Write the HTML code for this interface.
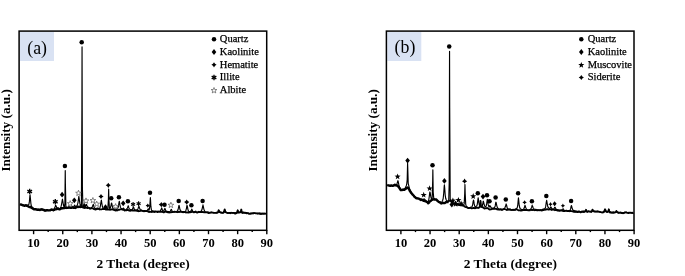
<!DOCTYPE html>
<html><head><meta charset="utf-8"><title>XRD patterns</title>
<style>html,body{margin:0;padding:0;background:#fff;}body{width:685px;height:276px;overflow:hidden;}svg{display:block;}</style>
</head><body>
<svg width="685" height="276" viewBox="0 0 685 276">
<rect width="685" height="276" fill="#fff"/>
<rect x="20.0" y="31.9" width="34" height="29.1" fill="#D9E2F3"/>
<text x="27.3" y="53.9" font-size="17.8" font-family="Liberation Serif, serif">(a)</text>
<path d="M19.90,204.30 L20.40,204.45 L20.90,204.44 L21.40,204.56 L21.90,204.87 L22.40,205.06 L22.90,205.38 L23.40,205.38 L23.90,205.62 L24.40,205.69 L24.90,205.71 L25.40,205.50 L25.90,205.20 L26.40,205.67 L26.90,205.85 L27.40,205.94 L27.90,206.09 L28.40,206.52 L28.90,206.62 L29.40,207.00 L29.90,206.94 L30.40,206.90 L30.90,206.98 L31.40,207.70 L31.90,208.09 L32.40,207.89 L32.90,208.69 L33.40,208.93 L33.90,209.24 L34.40,209.24 L34.90,209.40 L35.40,209.37 L35.90,209.12 L36.40,209.58 L36.90,209.47 L37.40,209.82 L37.90,209.55 L38.40,209.74 L38.90,209.78 L39.40,209.64 L39.90,209.98 L40.40,209.69 L40.90,209.45 L41.40,209.58 L41.90,209.17 L42.40,209.47 L42.90,209.79 L43.40,210.11 L43.90,210.03 L44.40,210.10 L44.90,210.65 L45.40,210.34 L45.90,210.54 L46.40,210.39 L46.90,210.09 L47.40,210.21 L47.90,210.32 L48.40,210.43 L48.90,210.38 L49.40,210.34 L49.90,210.35 L50.40,210.25 L50.90,209.77 L51.40,209.46 L51.90,209.70 L52.40,209.64 L52.90,209.85 L53.40,210.19 L53.90,209.85 L54.40,209.75 L54.90,209.34 L55.40,209.39 L55.90,209.31 L56.40,208.87 L56.90,209.02 L57.40,208.87 L57.90,208.43 L58.40,208.93 L58.90,209.08 L59.40,209.41 L59.90,209.13 L60.40,209.02 L60.90,208.71 L61.40,208.17 L61.90,208.09 L62.40,208.30 L62.90,208.33 L63.40,207.95 L63.90,208.06 L64.40,208.11 L64.90,207.87 L65.40,207.78 L65.90,207.65 L66.40,207.74 L66.90,207.93 L67.40,207.85 L67.90,207.76 L68.40,207.77 L68.90,207.22 L69.40,207.50 L69.90,207.73 L70.40,207.65 L70.90,207.64 L71.40,207.81 L71.90,207.41 L72.40,207.30 L72.90,207.56 L73.40,207.84 L73.90,207.69 L74.40,207.75 L74.90,207.71 L75.40,207.92 L75.90,207.48 L76.40,207.39 L76.90,206.75 L77.40,206.71 L77.90,206.86 L78.40,206.96 L78.90,206.74 L79.40,206.63 L79.90,206.58 L80.40,206.87 L80.90,206.99" fill="none" stroke="#000" stroke-width="2.4" stroke-linejoin="round"/>
<path d="M79.10,206.98 L79.60,207.19 L80.10,207.26 L80.60,207.21 L81.10,207.08 L81.60,207.10 L82.10,206.95 L82.60,207.35 L83.10,207.66 L83.60,207.59 L84.10,207.83 L84.60,207.79 L85.10,207.91 L85.60,207.45 L86.10,207.88 L86.60,207.89 L87.10,207.99 L87.60,207.98 L88.10,207.62 L88.60,207.97 L89.10,207.98 L89.60,208.48 L90.10,208.81 L90.60,208.41 L91.10,208.44 L91.60,208.28 L92.10,208.33 L92.60,208.34 L93.10,208.28 L93.60,209.00 L94.10,209.21 L94.60,209.26 L95.10,209.49 L95.60,209.50 L96.10,209.46 L96.60,209.24 L97.10,209.06 L97.60,208.70 L98.10,208.50 L98.60,208.85 L99.10,209.29 L99.60,209.52 L100.10,209.25 L100.60,209.39 L101.10,209.46 L101.60,209.40 L102.10,209.24 L102.60,208.90 L103.10,209.06 L103.60,208.88 L104.10,208.86 L104.60,209.04 L105.10,209.30 L105.60,209.60 L106.10,209.61 L106.60,209.38 L107.10,209.53 L107.60,209.41 L108.10,209.50 L108.60,209.48 L109.10,209.67 L109.60,209.63 L110.10,209.83 L110.60,209.72 L111.10,209.57 L111.60,209.42 L112.10,209.26 L112.60,209.44 L113.10,209.70 L113.60,209.97 L114.10,209.96 L114.60,210.24 L115.10,210.42 L115.60,210.51 L116.10,210.39 L116.60,210.08 L117.10,210.48 L117.60,210.37 L118.10,209.86 L118.60,209.91 L119.10,209.75 L119.60,209.78 L120.10,209.54 L120.60,209.31 L121.10,209.27 L121.60,209.27 L122.10,209.27 L122.60,209.68 L123.10,209.82 L123.60,209.58 L124.10,210.14 L124.60,210.55 L125.10,210.47 L125.60,210.46 L126.10,210.20 L126.60,210.27 L127.10,210.22 L127.60,209.83 L128.10,209.97 L128.60,210.44 L129.10,210.51 L129.60,210.69 L130.10,210.88 L130.60,210.68 L131.10,210.60 L131.60,210.17 L132.10,210.13 L132.60,210.56 L133.10,210.34 L133.60,210.58 L134.10,210.71 L134.60,210.47 L135.10,210.48 L135.60,210.18 L136.10,210.07 L136.60,210.39 L137.10,210.73 L137.60,211.01 L138.10,210.70 L138.60,211.27 L139.10,211.19 L139.60,211.16 L140.10,210.98 L140.60,210.87 L141.10,210.55 L141.60,210.51 L142.10,210.92 L142.60,210.90 L143.10,210.94 L143.60,211.10 L144.10,211.33 L144.60,210.90 L145.10,211.13 L145.60,211.04 L146.10,210.82 L146.60,211.11 L147.10,211.26 L147.60,211.31 L148.10,211.57 L148.60,211.57 L149.10,212.11 L149.60,211.71 L150.10,211.91 L150.60,211.84 L151.10,212.02 L151.60,211.91 L152.10,211.67 L152.60,211.75 L153.10,211.71 L153.60,211.84 L154.10,211.96 L154.60,212.06 L155.10,211.39 L155.60,211.31 L156.10,211.70 L156.60,211.72 L157.10,211.80 L157.60,212.14 L158.10,211.64 L158.60,211.87 L159.10,211.85 L159.60,211.91 L160.10,211.93 L160.60,211.85 L161.10,211.80 L161.60,211.81 L162.10,211.67 L162.60,212.05 L163.10,212.33 L163.60,212.12 L164.10,212.24 L164.60,211.86 L165.10,211.55 L165.60,211.63 L166.10,211.84 L166.60,211.62 L167.10,211.66 L167.60,212.32 L168.10,212.12 L168.60,212.24 L169.10,212.59 L169.60,212.44 L170.10,212.39 L170.60,212.40 L171.10,212.35 L171.60,211.94 L172.10,212.21 L172.60,212.07 L173.10,212.06 L173.60,211.97 L174.10,211.65 L174.60,211.67 L175.10,211.93 L175.60,211.95 L176.10,211.67 L176.60,212.02 L177.10,212.06 L177.60,212.23 L178.10,212.15 L178.60,211.92 L179.10,211.84 L179.60,212.02 L180.10,211.62 L180.60,211.94 L181.10,211.76 L181.60,211.65 L182.10,212.13 L182.60,211.86 L183.10,212.21 L183.60,211.87 L184.10,212.06 L184.60,212.03 L185.10,212.01 L185.60,212.32 L186.10,212.63 L186.60,212.28 L187.10,212.36 L187.60,212.45 L188.10,212.71 L188.60,212.41 L189.10,212.40 L189.60,212.48 L190.10,212.37 L190.60,212.19 L191.10,212.20 L191.60,211.90 L192.10,211.84 L192.60,211.86 L193.10,211.91 L193.60,212.30 L194.10,212.36 L194.60,211.79 L195.10,211.78 L195.60,211.53 L196.10,211.99 L196.60,212.35 L197.10,212.57 L197.60,212.59 L198.10,212.28 L198.60,211.91 L199.10,212.04 L199.60,212.08 L200.10,212.02 L200.60,211.84 L201.10,212.06 L201.60,211.92 L202.10,212.05 L202.60,212.02 L203.10,212.01 L203.60,212.23 L204.10,212.25 L204.60,212.45 L205.10,212.35 L205.60,212.26 L206.10,212.43 L206.60,212.19 L207.10,212.30 L207.60,212.49 L208.10,212.96 L208.60,213.05 L209.10,213.00 L209.60,212.82 L210.10,212.77 L210.60,212.69 L211.10,212.39 L211.60,212.35 L212.10,212.56 L212.60,212.63 L213.10,212.73 L213.60,212.89 L214.10,212.97 L214.60,212.95 L215.10,212.91 L215.60,212.96 L216.10,212.67 L216.60,212.82 L217.10,212.55 L217.60,212.64 L218.10,211.99 L218.60,210.36 L218.70,210.29 L219.10,211.05 L219.60,212.05 L220.10,212.03 L220.60,212.55 L221.10,212.68 L221.60,212.94 L222.10,212.86 L222.60,212.78 L223.10,212.46 L223.60,212.48 L224.10,211.51 L224.60,209.86 L224.70,209.44 L225.10,210.95 L225.60,212.24 L226.10,212.40 L226.60,212.73 L227.10,212.93 L227.60,212.98 L228.10,213.20 L228.60,213.02 L229.10,212.82 L229.60,213.07 L230.10,212.91 L230.60,213.22 L231.10,212.73 L231.60,212.79 L232.10,212.80 L232.60,212.96 L233.10,212.84 L233.60,212.86 L234.10,213.19 L234.60,213.36 L235.10,213.59 L235.60,213.56 L236.10,213.01 L236.60,213.15 L237.10,212.58 L237.60,210.49 L237.70,210.23 L238.10,211.59 L238.60,212.50 L239.10,212.51 L239.60,212.21 L240.10,212.07 L240.60,211.95 L241.10,210.28 L241.30,209.52 L241.60,211.00 L242.10,212.81 L242.60,212.65 L243.10,212.75 L243.60,212.46 L244.10,212.91 L244.60,212.61 L245.10,212.61 L245.60,212.76 L246.10,213.02 L246.60,212.91 L247.10,213.06 L247.60,213.25 L248.10,213.17 L248.60,213.62 L249.10,213.83 L249.60,213.80 L250.10,213.95 L250.60,213.84 L251.10,213.54 L251.60,213.18 L252.10,213.44 L252.60,213.34 L253.10,213.53 L253.60,213.21 L254.10,213.11 L254.60,213.20 L255.10,213.22 L255.60,213.35 L256.10,213.29 L256.60,213.36 L257.10,213.48 L257.60,213.25 L258.10,213.45 L258.60,213.49 L259.10,213.42 L259.60,213.85 L260.10,213.83 L260.60,214.03 L261.10,214.15 L261.60,213.68 L262.10,213.95 L262.60,213.76 L263.10,213.88 L263.60,213.42 L264.10,213.69 L264.60,213.51 L265.10,213.42 L265.60,213.69 L266.10,213.99" fill="none" stroke="#000" stroke-width="1.8" stroke-linejoin="round"/>
<path d="M19.90,204.27 L20.40,204.47 L20.90,204.63 L21.40,204.54 L21.90,204.60 L22.40,204.73 L22.90,205.09 L23.40,205.02 L23.90,205.43 L24.40,205.53 L24.90,205.12 L25.40,205.09 L25.90,205.25 L26.40,205.23 L26.90,205.34 L27.40,205.07 L27.90,205.01 L28.40,204.94 L28.90,204.43 L29.40,201.41 L29.90,195.64 L30.05,194.85 L30.40,198.22 L30.90,203.61 L31.40,206.11 L31.90,206.80 L32.40,207.31 L32.90,208.39 L33.40,208.90 L33.90,209.46 L34.40,209.16 L34.90,209.37 L35.40,209.30 L35.90,209.13 L36.40,209.58 L36.90,209.81 L37.40,209.74 L37.90,209.60 L38.40,209.41 L38.90,209.43 L39.40,209.47 L39.90,209.49 L40.40,209.81 L40.90,209.53 L41.40,209.67 L41.90,209.16 L42.40,209.81 L42.90,209.92 L43.40,210.25 L43.90,210.38 L44.40,210.51 L44.90,210.48 L45.40,210.16 L45.90,210.41 L46.40,210.00 L46.90,210.02 L47.40,210.27 L47.90,210.27 L48.40,210.27 L48.90,210.50 L49.40,210.30 L49.90,210.13 L50.40,209.81 L50.90,209.83 L51.40,209.34 L51.90,209.55 L52.40,209.46 L52.90,209.48 L53.40,209.52 L53.90,209.31 L54.40,208.40 L54.90,207.57 L55.40,205.80 L55.65,205.26 L55.90,205.64 L56.40,206.79 L56.90,207.94 L57.40,208.36 L57.90,208.03 L58.40,208.43 L58.90,208.56 L59.40,208.78 L59.90,208.39 L60.40,207.77 L60.90,206.95 L61.40,205.05 L61.90,202.23 L62.40,199.24 L62.45,199.21 L62.90,201.53 L63.40,205.03 L63.90,206.46 L64.40,206.77 L64.90,203.31 L65.25,170.62 L65.40,184.53 L65.90,206.73 L66.40,207.57 L66.90,207.69 L67.40,207.69 L67.90,207.51 L68.40,207.42 L68.90,207.16 L69.40,207.40 L69.90,207.60 L70.40,207.50 L70.55,207.38 L70.90,207.46 L71.40,207.46 L71.90,207.40 L72.40,207.33 L72.90,207.12 L73.40,207.19 L73.90,206.64 L74.40,205.48 L74.65,205.19 L74.90,205.49 L75.40,206.59 L75.90,206.80 L76.40,206.51 L76.90,205.68 L77.40,204.65 L77.90,203.06 L78.40,199.48 L78.85,196.29 L78.90,196.52 L79.40,200.24 L79.90,203.65 L80.40,205.24 L80.90,205.95 L81.40,206.68 L81.90,107.48 L82.05,46.94 L82.40,187.45 L82.90,206.65 L83.40,207.15 L83.90,207.13 L84.40,207.21 L84.90,207.02 L85.40,206.46 L85.90,205.42 L86.35,204.49 L86.40,204.26 L86.90,205.53 L87.40,206.36 L87.90,207.10 L88.40,207.84 L88.90,207.71 L89.40,207.91 L89.90,208.04 L90.40,208.39 L90.90,207.92 L91.40,207.64 L91.90,207.71 L92.40,206.53 L92.90,205.25 L93.25,204.38 L93.40,204.64 L93.90,206.49 L94.40,207.57 L94.90,208.34 L95.40,208.38 L95.90,209.04 L96.40,208.72 L96.90,208.30 L97.05,207.93 L97.40,208.41 L97.90,208.89 L98.40,208.53 L98.90,208.54 L99.40,208.38 L99.90,207.77 L100.40,205.88 L100.90,202.59 L101.35,200.19 L101.40,200.42 L101.90,203.74 L102.40,206.53 L102.90,207.90 L103.40,208.50 L103.90,208.75 L104.40,208.89 L104.90,208.70 L105.40,208.84 L105.85,209.00 L105.90,208.71 L106.40,209.13 L106.90,208.93 L107.40,209.07 L107.90,207.91 L108.40,199.60 L108.65,189.19 L108.90,199.57 L109.40,207.99 L109.90,209.01 L110.40,207.75 L110.90,205.78 L111.40,203.28 L111.55,203.06 L111.90,204.03 L112.40,206.60 L112.90,208.22 L113.40,208.69 L113.90,209.14 L114.40,209.14 L114.90,209.30 L115.40,209.05 L115.90,209.07 L115.95,209.31 L116.40,209.52 L116.90,209.20 L117.40,209.04 L117.90,208.04 L118.40,206.50 L118.90,203.08 L119.25,201.36 L119.40,201.62 L119.90,204.71 L120.40,207.14 L120.90,208.11 L121.40,208.48 L121.90,208.81 L122.40,209.05 L122.90,208.96 L123.40,208.04 L123.55,208.44 L123.90,208.62 L124.40,209.62 L124.90,210.08 L125.40,210.34 L125.90,209.95 L126.40,209.30 L126.90,208.74 L127.40,208.17 L127.90,206.67 L128.25,205.76 L128.40,206.10 L128.90,207.97 L129.40,208.91 L129.90,209.30 L130.40,209.53 L130.90,209.88 L131.40,209.78 L131.90,209.74 L132.40,209.29 L132.90,208.04 L133.40,207.03 L133.45,207.07 L133.90,208.04 L134.40,209.62 L134.90,210.39 L135.40,210.74 L135.90,210.63 L136.40,210.90 L136.90,210.20 L137.40,209.70 L137.90,208.96 L138.40,207.50 L138.90,206.21 L138.95,206.58 L139.40,207.65 L139.90,209.12 L140.40,209.83 L140.90,210.08 L141.40,210.03 L141.90,210.57 L142.40,210.96 L142.90,211.15 L143.40,210.94 L143.90,211.05 L144.40,211.20 L144.90,211.11 L145.40,211.35 L145.90,211.27 L146.40,211.26 L146.90,211.20 L147.40,210.29 L147.90,209.39 L148.15,209.02 L148.40,208.83 L148.90,210.31 L149.40,209.13 L149.90,205.09 L150.35,197.66 L150.40,197.64 L150.90,206.70 L151.40,209.88 L151.90,210.78 L152.40,210.75 L152.90,211.14 L153.40,211.30 L153.90,211.17 L154.40,211.35 L154.90,211.37 L155.40,211.79 L155.90,211.63 L156.40,211.65 L156.90,211.43 L157.40,211.33 L157.90,211.18 L158.40,211.44 L158.90,211.44 L159.40,211.19 L159.90,211.41 L160.40,210.93 L160.90,209.80 L161.40,208.67 L161.65,207.91 L161.90,208.44 L162.40,210.08 L162.90,210.82 L163.40,211.08 L163.90,210.57 L164.40,209.41 L164.85,208.52 L164.90,208.46 L165.40,209.58 L165.90,211.11 L166.40,211.85 L166.90,212.05 L167.40,212.08 L167.90,211.77 L168.40,211.58 L168.90,211.78 L169.40,212.09 L169.90,211.60 L170.40,211.17 L170.90,209.80 L171.25,209.48 L171.40,209.39 L171.90,210.48 L172.40,211.21 L172.90,211.51 L173.40,211.77 L173.90,211.70 L174.40,212.05 L174.90,211.66 L175.40,211.71 L175.90,211.55 L176.40,211.45 L176.90,211.59 L177.40,211.17 L177.90,210.07 L178.40,208.16 L178.90,205.55 L179.05,205.44 L179.40,206.71 L179.90,209.33 L180.40,210.64 L180.90,211.07 L181.40,211.54 L181.90,211.66 L182.40,211.97 L182.90,212.13 L183.40,212.04 L183.90,212.09 L184.40,212.28 L184.90,211.53 L185.40,211.35 L185.90,210.40 L186.40,208.58 L186.90,205.65 L187.05,205.47 L187.40,206.67 L187.90,209.34 L188.40,210.97 L188.90,211.56 L189.40,211.64 L189.90,211.95 L190.40,211.41 L190.90,210.85 L191.40,209.93 L191.75,209.11 L191.90,209.60 L192.40,210.64 L192.90,211.51 L193.40,212.10 L193.90,212.47 L194.40,212.28 L194.90,212.35 L195.40,211.98 L195.90,212.22 L196.40,212.29 L196.90,212.19 L197.40,212.13 L197.90,212.12 L198.40,211.87 L198.90,211.39 L199.40,211.80 L199.90,211.75 L200.40,211.44 L200.90,211.39 L201.40,210.88 L201.90,209.81 L202.40,207.62 L202.90,205.15 L202.95,204.80 L203.40,206.80 L203.90,209.37 L204.40,210.55 L204.90,211.72 L205.40,212.00 L205.90,212.37 L206.40,212.39 L206.90,212.42 L207.40,212.09 L207.90,212.17 L208.40,212.16 L208.90,212.35 L209.40,212.37 L209.90,212.75 L210.40,212.58 L210.90,212.36 L211.40,212.29 L211.90,212.38 L212.40,212.53 L212.90,212.60 L213.40,212.75 L213.90,212.75 L214.40,212.58 L214.90,212.51 L215.40,212.74 L215.90,212.68 L216.40,212.83 L216.90,212.94 L217.40,212.70 L217.90,212.48 L218.40,211.44 L218.70,210.28 L218.90,210.62 L219.40,211.83 L219.90,212.02 L220.40,212.17 L220.90,212.07 L221.40,212.14 L221.90,212.45 L222.40,212.91 L222.90,212.69 L223.40,212.85 L223.90,212.65 L224.40,211.01 L224.70,209.75 L224.90,210.50 L225.40,211.98 L225.90,212.04 L226.40,212.29 L226.90,212.48 L227.40,212.78 L227.90,212.66 L228.40,212.72 L228.90,213.00 L229.40,212.97 L229.90,213.04 L230.40,212.63 L230.90,212.77 L231.40,212.79 L231.90,212.63 L232.40,213.12 L232.90,212.73 L233.40,212.65 L233.90,212.83 L234.40,212.68 L234.90,212.91 L235.40,212.76 L235.90,212.67 L236.40,212.62 L236.90,212.90 L237.40,211.36 L237.70,210.53 L237.90,211.02 L238.40,212.76 L238.90,212.56 L239.40,212.67 L239.90,212.61 L240.40,212.77 L240.90,211.41 L241.30,209.86 L241.40,210.14 L241.90,212.48 L242.40,213.10 L242.90,212.81 L243.40,212.36 L243.90,212.53 L244.40,212.80 L244.90,213.06 L245.40,213.13 L245.90,213.21 L246.40,213.59 L246.90,213.70 L247.40,213.21 L247.90,213.46 L248.40,213.10 L248.90,213.24 L249.40,213.28 L249.90,213.27 L250.40,213.02 L250.90,213.36 L251.40,213.72 L251.90,213.78 L252.40,213.17 L252.90,213.08 L253.40,213.28 L253.90,212.90 L254.40,213.03 L254.90,213.03 L255.40,213.30 L255.90,213.52 L256.40,213.23 L256.90,213.62 L257.40,213.71 L257.90,213.86 L258.40,213.52 L258.90,213.51 L259.40,213.03 L259.90,213.08 L260.40,213.08 L260.90,213.43 L261.40,213.32 L261.90,213.23 L262.40,213.19 L262.90,213.55 L263.40,213.67 L263.90,213.90 L264.40,213.86 L264.90,213.78 L265.40,213.48 L265.90,213.63" fill="none" stroke="#000" stroke-width="1.15" stroke-linejoin="round"/>
<g fill="#000"><g stroke="#000" stroke-width="1.35"><line x1="29.70" y1="188.80" x2="29.70" y2="194.20"/><line x1="32.04" y1="190.15" x2="27.36" y2="192.85"/><line x1="32.04" y1="192.85" x2="27.36" y2="190.15"/></g><circle cx="29.70" cy="191.50" r="1.0"/><g stroke="#000" stroke-width="1.35"><line x1="55.30" y1="199.10" x2="55.30" y2="204.50"/><line x1="57.64" y1="200.45" x2="52.96" y2="203.15"/><line x1="57.64" y1="203.15" x2="52.96" y2="200.45"/></g><circle cx="55.30" cy="201.80" r="1.0"/><polygon points="62.1,191.8 64.4,194.7 62.1,197.6 59.8,194.7"/><circle cx="64.9" cy="166.1" r="2.25"/><polygon points="70.20,200.60 69.47,202.59 67.35,202.67 69.01,203.99 68.44,206.03 70.20,204.85 71.96,206.03 71.39,203.99 73.05,202.67 70.93,202.59" fill="#fff" stroke="#555" stroke-width="0.7"/><polygon points="74.3,197.4 76.6,200.3 74.3,203.2 72.0,200.3"/><polygon points="78.50,190.20 77.77,192.19 75.65,192.27 77.31,193.59 76.74,195.63 78.50,194.45 80.26,195.63 79.69,193.59 81.35,192.27 79.23,192.19" fill="#fff" stroke="#555" stroke-width="0.7"/><circle cx="81.7" cy="42.3" r="2.25"/><polygon points="84.4,203.1 86.7,206.0 84.4,208.9 82.1,206.0"/><polygon points="86.00,197.90 85.27,199.89 83.15,199.97 84.81,201.29 84.24,203.33 86.00,202.15 87.76,203.33 87.19,201.29 88.85,199.97 86.73,199.89" fill="#fff" stroke="#555" stroke-width="0.7"/><polygon points="92.90,197.50 92.17,199.49 90.05,199.57 91.71,200.89 91.14,202.93 92.90,201.75 94.66,202.93 94.09,200.89 95.75,199.57 93.63,199.49" fill="#fff" stroke="#555" stroke-width="0.7"/><polygon points="96.70,201.10 95.97,203.09 93.85,203.17 95.51,204.49 94.94,206.53 96.70,205.35 98.46,206.53 97.89,204.49 99.55,203.17 97.43,203.09" fill="#fff" stroke="#555" stroke-width="0.7"/><polygon points="101.00,193.90 99.97,195.47 98.40,196.50 99.97,197.53 101.00,199.10 102.03,197.53 103.60,196.50 102.03,195.47"/><polygon points="105.5,204.3 107.8,207.2 105.5,210.1 103.2,207.2"/><polygon points="108.30,182.70 107.27,184.27 105.70,185.30 107.27,186.33 108.30,187.90 109.33,186.33 110.90,185.30 109.33,184.27"/><circle cx="111.2" cy="198.3" r="2.25"/><polygon points="115.60,203.60 114.87,205.59 112.75,205.67 114.41,206.99 113.84,209.03 115.60,207.85 117.36,209.03 116.79,206.99 118.45,205.67 116.33,205.59" fill="#fff" stroke="#555" stroke-width="0.7"/><circle cx="118.9" cy="197.2" r="2.25"/><polygon points="123.2,200.4 125.5,203.3 123.2,206.2 120.9,203.3"/><circle cx="127.9" cy="201.2" r="2.25"/><g stroke="#000" stroke-width="1.1"><line x1="133.10" y1="202.10" x2="133.10" y2="206.70"/><line x1="135.09" y1="203.25" x2="131.11" y2="205.55"/><line x1="135.09" y1="205.55" x2="131.11" y2="203.25"/></g><circle cx="133.10" cy="204.40" r="0.8"/><g stroke="#000" stroke-width="1.1"><line x1="138.60" y1="201.30" x2="138.60" y2="205.90"/><line x1="140.59" y1="202.45" x2="136.61" y2="204.75"/><line x1="140.59" y1="204.75" x2="136.61" y2="202.45"/></g><circle cx="138.60" cy="203.60" r="0.8"/><polygon points="147.80,203.40 146.99,204.79 145.60,205.60 146.99,206.41 147.80,207.80 148.61,206.41 150.00,205.60 148.61,204.79"/><circle cx="150.0" cy="192.8" r="2.25"/><polygon points="161.30,202.00 160.27,203.57 158.70,204.60 160.27,205.63 161.30,207.20 162.33,205.63 163.90,204.60 162.33,203.57"/><circle cx="164.5" cy="204.8" r="2.25"/><polygon points="170.90,202.20 170.17,204.19 168.05,204.27 169.71,205.59 169.14,207.63 170.90,206.45 172.66,207.63 172.09,205.59 173.75,204.27 171.63,204.19" fill="#fff" stroke="#555" stroke-width="0.7"/><circle cx="178.7" cy="200.9" r="2.25"/><polygon points="186.70,199.50 185.67,201.07 184.10,202.10 185.67,203.13 186.70,204.70 187.73,203.13 189.30,202.10 187.73,201.07"/><circle cx="191.4" cy="205.3" r="2.25"/><circle cx="202.6" cy="200.9" r="2.25"/></g>
<rect x="19.1" y="31.1" width="247.6" height="199.2" fill="none" stroke="#000" stroke-width="1.5"/>
<g stroke="#000" stroke-width="1.4"><line x1="33.60" y1="230.3" x2="33.60" y2="234.2"/><line x1="48.17" y1="230.3" x2="48.17" y2="232.1"/><line x1="62.75" y1="230.3" x2="62.75" y2="234.2"/><line x1="77.33" y1="230.3" x2="77.33" y2="232.1"/><line x1="91.90" y1="230.3" x2="91.90" y2="234.2"/><line x1="106.47" y1="230.3" x2="106.47" y2="232.1"/><line x1="121.05" y1="230.3" x2="121.05" y2="234.2"/><line x1="135.62" y1="230.3" x2="135.62" y2="232.1"/><line x1="150.20" y1="230.3" x2="150.20" y2="234.2"/><line x1="164.78" y1="230.3" x2="164.78" y2="232.1"/><line x1="179.35" y1="230.3" x2="179.35" y2="234.2"/><line x1="193.92" y1="230.3" x2="193.92" y2="232.1"/><line x1="208.50" y1="230.3" x2="208.50" y2="234.2"/><line x1="223.07" y1="230.3" x2="223.07" y2="232.1"/><line x1="237.65" y1="230.3" x2="237.65" y2="234.2"/><line x1="252.22" y1="230.3" x2="252.22" y2="232.1"/><line x1="266.80" y1="230.3" x2="266.80" y2="234.2"/></g>
<g font-size="12.5" font-weight="bold" font-family="Liberation Serif, serif" text-anchor="middle"><text x="33.60" y="246.7">10</text><text x="62.75" y="246.7">20</text><text x="91.90" y="246.7">30</text><text x="121.05" y="246.7">40</text><text x="150.20" y="246.7">50</text><text x="179.35" y="246.7">60</text><text x="208.50" y="246.7">70</text><text x="237.65" y="246.7">80</text><text x="266.80" y="246.7">90</text></g>
<text x="143.1" y="268.4" font-size="13.4" font-weight="bold" font-family="Liberation Serif, serif" text-anchor="middle">2 Theta (degree)</text>
<text transform="translate(9.8,130.4) rotate(-90)" font-size="13.2" font-weight="bold" font-family="Liberation Serif, serif" text-anchor="middle">Intensity (a.u.)</text>
<g fill="#000"><circle cx="214.0" cy="39.2" r="2.25"/></g><text x="219.8" y="42.0" font-size="10.5" font-family="Liberation Serif, serif" stroke="#000" stroke-width="0.25">Quartz</text><g fill="#000"><polygon points="214.0,49.1 216.3,52.0 214.0,54.9 211.7,52.0"/></g><text x="219.8" y="54.8" font-size="10.5" font-family="Liberation Serif, serif" stroke="#000" stroke-width="0.25">Kaolinite</text><g fill="#000"><polygon points="214.00,62.20 212.97,63.77 211.40,64.80 212.97,65.83 214.00,67.40 215.03,65.83 216.60,64.80 215.03,63.77"/></g><text x="219.8" y="67.6" font-size="10.5" font-family="Liberation Serif, serif" stroke="#000" stroke-width="0.25">Hematite</text><g fill="#000"><g stroke="#000" stroke-width="1.35"><line x1="214.00" y1="74.80" x2="214.00" y2="80.20"/><line x1="216.34" y1="76.15" x2="211.66" y2="78.85"/><line x1="216.34" y1="78.85" x2="211.66" y2="76.15"/></g><circle cx="214.00" cy="77.50" r="1.0"/></g><text x="219.8" y="80.3" font-size="10.5" font-family="Liberation Serif, serif" stroke="#000" stroke-width="0.25">Illite</text><g fill="#000"><polygon points="214.00,87.50 213.27,89.49 211.15,89.57 212.81,90.89 212.24,92.93 214.00,91.75 215.76,92.93 215.19,90.89 216.85,89.57 214.73,89.49" fill="#fff" stroke="#555" stroke-width="0.7"/></g><text x="219.8" y="93.0" font-size="10.5" font-family="Liberation Serif, serif" stroke="#000" stroke-width="0.25">Albite</text>
<rect x="387.3" y="31.9" width="34" height="29.1" fill="#D9E2F3"/>
<text x="394.6" y="53.4" font-size="17.8" font-family="Liberation Serif, serif">(b)</text>
<path d="M387.20,185.41 L387.70,185.34 L388.20,185.36 L388.70,185.37 L389.20,185.54 L389.70,185.75 L390.20,185.47 L390.70,185.74 L391.20,185.51 L391.70,185.47 L392.20,185.79 L392.70,185.70 L393.20,185.68 L393.70,185.47 L394.20,185.28 L394.70,184.66 L395.20,185.19 L395.70,184.87 L396.20,185.40 L396.70,185.61 L397.20,185.37 L397.70,185.93 L398.20,186.29 L398.70,187.17 L399.20,187.72 L399.70,188.50 L400.20,189.21 L400.70,189.96 L401.20,189.93 L401.70,190.12 L402.20,189.98 L402.70,189.77 L403.20,189.56 L403.70,189.66 L404.20,189.71 L404.70,189.69 L405.20,188.97 L405.70,188.86 L406.20,188.41 L406.70,188.09 L407.20,187.53 L407.70,187.93 L408.20,187.82 L408.70,188.40 L409.20,189.61 L409.70,190.67 L410.20,191.32 L410.70,192.27 L411.20,192.94 L411.70,193.48 L412.20,194.14 L412.70,194.69 L413.20,195.16 L413.70,195.59 L414.20,196.34 L414.70,197.09 L415.20,197.22 L415.70,197.60 L416.20,198.28 L416.70,198.27 L417.20,198.42 L417.70,198.39 L418.20,198.60 L418.70,198.69 L419.20,198.82 L419.70,199.20 L420.20,199.42 L420.70,199.99 L421.20,199.50 L421.70,199.67 L422.20,199.94 L422.70,199.91 L423.20,200.55 L423.70,200.92 L424.20,200.81 L424.70,201.02 L425.20,200.81 L425.70,201.23 L426.20,201.35 L426.70,201.95 L427.20,202.12 L427.70,202.57 L428.20,203.22 L428.70,202.90 L429.20,202.42 L429.70,201.61 L430.20,201.18 L430.70,200.99 L431.20,200.47 L431.70,199.94 L432.20,199.76 L432.70,199.39 L433.20,199.27 L433.70,199.33 L434.20,199.52 L434.70,199.56 L435.20,199.57 L435.70,199.54 L436.20,199.45 L436.70,199.85 L437.20,200.62 L437.70,201.24 L438.20,201.42 L438.70,201.84 L439.20,202.04 L439.70,202.24 L440.20,202.63 L440.70,203.09 L441.20,203.31 L441.70,203.48 L442.20,202.97 L442.70,202.78 L443.20,202.95 L443.70,203.00 L444.20,202.89 L444.70,203.10 L445.20,202.71 L445.70,202.42 L446.20,201.96 L446.70,202.16 L447.20,201.97 L447.70,202.13 L448.20,201.88" fill="none" stroke="#000" stroke-width="2.4" stroke-linejoin="round"/>
<path d="M446.40,201.93 L446.90,201.80 L447.40,201.67 L447.90,201.66 L448.40,201.37 L448.90,200.79 L449.40,200.92 L449.90,200.53 L450.40,200.67 L450.90,201.13 L451.40,201.90 L451.90,202.19 L452.40,202.68 L452.90,203.10 L453.40,203.39 L453.90,203.53 L454.40,203.73 L454.90,204.15 L455.40,203.48 L455.60,202.49 L455.90,203.91 L456.40,204.43 L456.90,204.59 L457.40,204.87 L457.90,204.87 L458.40,204.65 L458.90,205.05 L459.40,205.20 L459.90,205.19 L460.40,205.29 L460.90,205.38 L461.40,205.28 L461.90,205.50 L462.40,205.39 L462.90,205.35 L463.40,205.58 L463.90,205.82 L464.40,206.51 L464.90,206.76 L465.40,206.99 L465.90,207.21 L466.40,207.00 L466.90,207.28 L467.40,207.72 L467.90,207.92 L468.40,208.20 L468.90,208.09 L469.40,207.86 L469.90,207.85 L470.40,207.74 L470.90,207.97 L471.40,208.34 L471.90,208.47 L472.40,208.24 L472.90,207.93 L473.40,207.99 L473.90,207.91 L474.40,207.94 L474.90,208.31 L475.40,208.15 L475.90,207.88 L476.40,207.97 L476.90,207.79 L477.40,207.70 L477.90,207.68 L478.40,207.98 L478.90,207.47 L479.40,207.50 L479.90,206.91 L480.40,202.19 L480.50,200.83 L480.90,206.07 L481.40,206.78 L481.90,206.93 L482.40,207.27 L482.90,207.22 L483.40,207.76 L483.90,208.19 L484.40,208.65 L484.90,208.24 L485.40,208.28 L485.90,208.42 L486.40,208.34 L486.90,207.98 L487.40,208.06 L487.90,208.38 L488.40,208.57 L488.90,209.09 L489.40,209.34 L489.90,209.55 L490.40,209.40 L490.90,209.47 L491.40,209.09 L491.90,209.06 L492.40,208.60 L492.90,208.83 L493.40,208.89 L493.90,208.99 L494.40,208.87 L494.90,208.85 L495.40,208.93 L495.90,208.81 L496.40,208.79 L496.90,209.25 L497.40,209.10 L497.90,209.56 L498.40,209.52 L498.90,209.49 L499.40,209.60 L499.90,209.48 L500.40,209.05 L500.90,209.15 L501.40,209.60 L501.90,209.90 L502.40,209.65 L502.90,209.53 L503.40,209.14 L503.90,209.19 L504.40,209.06 L504.90,209.19 L505.40,209.30 L505.90,209.54 L506.40,209.78 L506.90,210.14 L507.40,209.70 L507.90,209.58 L508.40,209.48 L508.90,209.85 L509.40,209.65 L509.90,209.43 L510.40,209.89 L510.90,209.98 L511.40,210.03 L511.90,209.81 L512.40,209.97 L512.90,209.72 L513.40,209.62 L513.90,209.96 L514.40,209.92 L514.90,209.58 L515.40,209.80 L515.90,209.27 L516.40,209.30 L516.90,209.40 L517.40,209.73 L517.90,209.98 L518.40,210.38 L518.90,210.27 L519.40,210.31 L519.90,210.36 L520.40,210.43 L520.90,210.72 L521.40,210.56 L521.90,210.20 L522.40,210.39 L522.90,210.22 L523.40,210.08 L523.90,210.02 L524.40,209.98 L524.90,210.07 L525.40,209.93 L525.90,210.01 L526.40,210.02 L526.90,210.22 L527.40,210.22 L527.90,210.28 L528.40,210.33 L528.90,210.44 L529.40,210.14 L529.90,210.28 L530.40,209.88 L530.90,209.92 L531.40,209.89 L531.90,210.07 L532.40,209.99 L532.90,209.91 L533.40,209.95 L533.90,210.10 L534.40,210.23 L534.90,210.33 L535.40,210.04 L535.90,210.09 L536.40,210.23 L536.90,210.33 L537.40,210.34 L537.90,210.21 L538.40,210.24 L538.90,210.06 L539.40,210.19 L539.90,210.00 L540.40,209.97 L540.90,210.19 L541.40,210.31 L541.90,210.64 L542.40,210.07 L542.90,209.99 L543.40,210.15 L543.90,209.84 L544.40,209.69 L544.90,209.94 L545.40,209.70 L545.90,209.61 L546.40,209.34 L546.90,209.19 L547.40,209.13 L547.90,209.41 L548.40,209.61 L548.90,209.56 L549.40,209.39 L549.90,209.41 L550.40,209.27 L550.90,209.45 L551.40,209.97 L551.90,209.80 L552.40,209.68 L552.90,209.19 L553.40,209.30 L553.90,209.65 L554.40,210.01 L554.90,210.23 L555.40,210.14 L555.90,209.88 L556.40,209.85 L556.90,210.34 L557.40,210.66 L557.90,210.66 L558.40,210.44 L558.90,210.50 L559.40,210.31 L559.90,210.26 L560.40,210.31 L560.90,210.49 L561.40,210.69 L561.90,210.50 L562.40,210.75 L562.90,211.02 L563.40,211.04 L563.90,210.92 L564.40,211.13 L564.90,210.80 L565.40,210.94 L565.90,210.71 L566.40,210.58 L566.90,210.93 L567.40,211.12 L567.90,211.14 L568.40,210.98 L568.90,210.88 L569.40,210.89 L569.90,211.26 L570.40,210.98 L570.90,211.12 L571.40,211.19 L571.90,211.14 L572.40,211.34 L572.90,211.44 L573.40,211.69 L573.90,211.90 L574.40,211.82 L574.90,211.97 L575.40,211.51 L575.90,211.59 L576.40,211.94 L576.90,212.00 L577.40,212.07 L577.90,211.89 L578.40,211.36 L578.90,211.52 L579.40,211.51 L579.90,211.87 L580.40,212.42 L580.90,212.31 L581.40,211.96 L581.90,211.51 L582.40,211.55 L582.90,211.39 L583.40,211.59 L583.90,211.33 L584.40,211.44 L584.90,211.76 L585.40,211.22 L585.90,210.04 L586.00,209.75 L586.40,211.01 L586.90,211.86 L587.40,211.91 L587.90,211.40 L588.40,211.18 L588.90,211.26 L589.40,211.54 L589.90,211.62 L590.40,211.48 L590.90,211.74 L591.40,211.92 L591.90,211.13 L592.40,209.88 L592.50,209.59 L592.90,210.47 L593.40,211.27 L593.90,211.33 L594.40,211.23 L594.90,211.67 L595.40,211.58 L595.90,211.32 L596.40,211.55 L596.90,211.54 L597.40,211.18 L597.90,211.54 L598.40,211.50 L598.90,211.65 L599.40,211.82 L599.90,212.05 L600.40,212.01 L600.90,212.15 L601.40,212.27 L601.90,212.38 L602.40,212.30 L602.90,212.23 L603.40,212.36 L603.90,211.87 L604.40,210.99 L604.90,209.47 L605.00,209.32 L605.40,209.95 L605.90,211.16 L606.40,211.69 L606.90,211.93 L607.40,211.99 L607.90,211.81 L608.40,210.62 L608.80,209.53 L608.90,210.21 L609.40,211.68 L609.90,212.41 L610.40,212.69 L610.90,212.52 L611.40,212.67 L611.90,212.85 L612.40,212.42 L612.90,212.55 L613.40,212.19 L613.90,212.36 L614.40,212.39 L614.90,212.35 L615.40,212.29 L615.90,211.74 L616.40,211.00 L616.90,211.88 L617.40,212.29 L617.90,212.26 L618.40,212.78 L618.90,212.63 L619.40,212.55 L619.90,212.58 L620.40,212.50 L620.90,212.57 L621.40,212.81 L621.90,213.20 L622.40,213.00 L622.90,213.26 L623.40,212.81 L623.90,213.04 L624.40,212.66 L624.90,212.46 L625.40,212.51 L625.90,212.18 L626.40,212.32 L626.90,212.60 L627.40,212.77 L627.90,212.87 L628.40,213.20 L628.90,212.95 L629.40,212.84 L629.90,212.53 L630.40,212.54 L630.90,212.73 L631.40,212.86 L631.90,212.89 L632.40,212.71 L632.90,213.03 L633.40,212.56" fill="none" stroke="#000" stroke-width="1.8" stroke-linejoin="round"/>
<path d="M387.20,185.53 L387.70,185.52 L388.20,185.26 L388.70,185.58 L389.20,185.48 L389.70,185.75 L390.20,185.65 L390.70,185.76 L391.20,185.61 L391.70,185.64 L392.20,185.47 L392.70,185.68 L393.20,185.78 L393.70,185.49 L394.20,184.92 L394.70,184.81 L395.20,184.79 L395.70,184.71 L396.20,184.74 L396.70,184.35 L397.20,183.13 L397.70,181.30 L397.95,180.70 L398.20,181.57 L398.70,184.16 L399.20,186.02 L399.70,187.56 L400.20,188.61 L400.70,189.22 L401.20,189.45 L401.70,189.77 L402.20,189.52 L402.70,189.37 L403.20,189.28 L403.70,189.39 L404.20,189.32 L404.70,188.93 L405.20,188.31 L405.70,187.09 L406.20,185.90 L406.70,184.29 L407.20,179.82 L407.60,163.31 L407.70,166.29 L408.20,183.31 L408.70,185.31 L409.20,187.72 L409.70,189.13 L410.20,190.34 L410.70,191.26 L411.20,192.36 L411.70,193.05 L412.20,193.78 L412.70,194.38 L413.20,195.15 L413.70,195.54 L414.20,196.16 L414.70,196.76 L415.20,197.15 L415.70,197.92 L416.20,197.70 L416.70,198.13 L417.20,198.29 L417.70,198.42 L418.20,198.30 L418.70,198.64 L419.20,198.73 L419.70,198.97 L420.20,199.66 L420.70,199.53 L421.20,199.68 L421.70,199.48 L422.20,199.61 L422.70,199.96 L423.20,199.83 L423.70,199.09 L424.05,198.83 L424.20,198.78 L424.70,199.43 L425.20,200.02 L425.70,200.80 L426.20,201.18 L426.70,201.51 L427.20,201.80 L427.70,201.72 L428.20,201.46 L428.70,200.35 L429.20,196.96 L429.70,192.78 L429.95,191.94 L430.20,192.87 L430.70,196.20 L431.20,198.27 L431.70,198.98 L432.20,197.13 L432.70,180.52 L432.85,169.81 L433.20,192.04 L433.70,197.81 L434.20,198.61 L434.70,199.39 L435.20,199.57 L435.70,199.52 L436.20,199.43 L436.70,200.07 L437.20,200.33 L437.70,200.84 L438.20,201.19 L438.70,201.69 L439.20,201.59 L439.70,201.65 L440.20,202.05 L440.70,202.14 L441.20,202.58 L441.70,202.16 L442.20,201.26 L442.70,200.24 L443.20,198.30 L443.70,193.52 L444.20,186.27 L444.40,184.87 L444.70,187.94 L445.20,195.06 L445.70,198.30 L446.20,199.80 L446.70,200.50 L447.20,201.33 L447.70,201.21 L448.20,201.40 L448.70,200.74 L449.20,182.91 L449.55,51.24 L449.70,107.56 L450.20,199.26 L450.70,200.92 L451.20,201.32 L451.70,201.95 L452.20,202.25 L452.70,202.54 L453.20,202.94 L453.25,202.93 L453.70,203.13 L454.20,203.54 L454.70,203.64 L455.20,203.36 L455.60,201.49 L455.70,202.10 L456.20,203.93 L456.70,204.09 L457.20,204.05 L457.70,203.84 L458.20,204.04 L458.70,203.63 L458.75,203.71 L459.20,204.14 L459.70,204.59 L460.20,204.85 L460.70,205.11 L461.20,204.72 L461.45,204.62 L461.70,204.75 L462.20,204.46 L462.70,204.90 L463.20,205.43 L463.70,204.92 L464.20,203.63 L464.70,193.69 L464.95,184.45 L465.20,193.48 L465.70,204.07 L466.20,206.20 L466.70,206.50 L467.20,207.16 L467.70,207.60 L468.20,207.92 L468.70,207.95 L469.20,207.80 L469.70,207.93 L470.20,207.92 L470.70,207.35 L471.20,207.14 L471.70,207.00 L472.20,206.26 L472.70,204.60 L473.20,201.20 L473.55,200.14 L473.70,200.61 L474.20,203.88 L474.70,206.03 L475.20,206.57 L475.70,207.26 L476.20,206.42 L476.70,205.95 L477.20,204.71 L477.70,201.15 L478.15,197.84 L478.20,197.94 L478.70,201.92 L479.20,204.46 L479.70,205.92 L480.20,204.99 L480.50,200.76 L480.70,203.93 L481.20,206.96 L481.70,207.01 L482.20,206.29 L482.70,204.26 L483.20,201.30 L483.35,201.20 L483.70,202.34 L484.20,204.81 L484.70,205.89 L485.20,207.00 L485.70,206.78 L486.20,205.96 L486.70,203.40 L487.20,200.03 L487.35,199.36 L487.70,200.75 L488.20,204.63 L488.70,206.31 L489.20,207.08 L489.70,205.62 L489.85,205.64 L490.20,205.90 L490.70,207.02 L491.20,207.54 L491.70,208.08 L492.20,208.16 L492.70,208.42 L493.20,208.23 L493.70,207.88 L494.20,207.68 L494.70,207.22 L495.20,205.94 L495.70,202.84 L495.95,202.22 L496.20,202.82 L496.70,205.29 L497.20,207.11 L497.70,207.86 L498.20,208.51 L498.70,209.20 L499.20,209.27 L499.70,209.77 L500.20,209.71 L500.70,209.72 L501.20,210.00 L501.70,209.64 L502.20,209.87 L502.70,209.29 L503.20,209.05 L503.70,209.16 L504.20,208.79 L504.70,208.11 L505.20,207.08 L505.70,205.56 L506.15,203.93 L506.20,204.04 L506.70,205.75 L507.20,207.89 L507.70,208.70 L508.20,209.16 L508.70,209.34 L509.20,209.39 L509.70,209.12 L510.20,209.16 L510.70,209.31 L511.20,209.92 L511.70,210.04 L512.20,210.15 L512.70,209.98 L513.20,210.20 L513.70,210.04 L514.20,210.07 L514.70,210.04 L515.20,209.83 L515.70,209.25 L516.20,208.61 L516.70,208.26 L517.20,207.79 L517.70,205.73 L518.20,200.31 L518.45,197.82 L518.70,199.96 L519.20,205.24 L519.70,207.57 L520.20,208.76 L520.70,209.13 L521.20,209.34 L521.70,209.59 L522.20,209.52 L522.70,209.50 L523.20,209.35 L523.70,209.05 L524.20,208.04 L524.70,206.31 L524.95,205.37 L525.20,205.80 L525.70,207.52 L526.20,208.56 L526.70,209.35 L527.20,209.80 L527.70,210.21 L528.20,209.96 L528.70,210.32 L529.20,209.86 L529.70,209.96 L530.20,209.59 L530.70,209.17 L531.20,208.37 L531.70,207.15 L532.20,205.13 L532.25,205.38 L532.70,206.41 L533.20,208.20 L533.70,209.00 L534.20,209.07 L534.70,209.26 L535.20,209.27 L535.70,209.43 L536.20,209.43 L536.70,209.66 L537.20,210.00 L537.70,209.91 L538.20,210.09 L538.70,210.35 L539.20,210.37 L539.70,210.70 L540.20,210.76 L540.70,210.28 L541.20,209.95 L541.70,209.79 L542.20,209.64 L542.70,209.33 L543.20,209.04 L543.70,209.14 L544.20,208.69 L544.70,208.58 L545.20,208.43 L545.70,206.41 L546.20,202.71 L546.65,200.31 L546.70,200.55 L547.20,203.49 L547.70,206.26 L548.20,207.43 L548.70,207.99 L549.20,208.65 L549.70,208.44 L550.20,208.09 L550.70,206.94 L550.85,206.99 L551.20,207.39 L551.70,208.59 L552.20,209.04 L552.70,209.51 L553.20,209.71 L553.70,209.31 L554.20,208.49 L554.70,207.32 L554.95,207.48 L555.20,207.36 L555.70,208.66 L556.20,209.32 L556.70,209.69 L557.20,209.58 L557.70,209.73 L558.20,209.80 L558.70,210.42 L559.20,211.01 L559.70,211.11 L560.20,210.96 L560.70,210.30 L561.20,209.84 L561.70,210.12 L562.20,209.93 L562.70,209.41 L563.20,208.64 L563.25,208.76 L563.70,209.55 L564.20,210.62 L564.70,210.65 L565.20,210.70 L565.70,210.77 L566.20,210.50 L566.70,210.69 L567.20,210.98 L567.70,211.03 L568.20,211.40 L568.70,211.41 L569.20,211.08 L569.70,210.57 L570.20,209.81 L570.70,208.41 L571.20,205.97 L571.45,205.58 L571.70,206.28 L572.20,208.57 L572.70,209.79 L573.20,210.56 L573.70,210.36 L574.20,210.55 L574.70,210.84 L575.20,211.10 L575.70,211.11 L576.20,211.23 L576.70,211.13 L577.20,211.30 L577.70,211.48 L578.20,211.92 L578.70,212.08 L579.20,212.06 L579.70,211.81 L580.20,211.58 L580.70,211.73 L581.20,211.71 L581.70,211.92 L582.20,211.92 L582.70,212.08 L583.20,212.03 L583.70,212.41 L584.20,212.09 L584.70,211.83 L585.20,211.51 L585.70,210.39 L586.00,209.74 L586.20,210.45 L586.70,211.51 L587.20,211.73 L587.70,211.99 L588.20,211.77 L588.70,211.49 L589.20,211.54 L589.70,211.58 L590.20,211.70 L590.70,211.98 L591.20,212.03 L591.70,211.68 L592.20,210.22 L592.50,209.56 L592.70,209.97 L593.20,211.05 L593.70,211.28 L594.20,211.59 L594.70,211.71 L595.20,211.72 L595.70,211.47 L596.20,211.74 L596.70,211.54 L597.20,211.73 L597.70,211.52 L598.20,211.75 L598.70,211.76 L599.20,211.50 L599.70,211.70 L600.20,212.22 L600.70,212.22 L601.20,212.43 L601.70,212.43 L602.20,212.58 L602.70,212.64 L603.20,212.31 L603.70,212.34 L604.20,211.78 L604.70,210.07 L605.00,209.54 L605.20,209.90 L605.70,211.12 L606.20,212.10 L606.70,211.71 L607.20,211.95 L607.70,211.75 L608.20,211.10 L608.70,209.36 L608.80,208.97 L609.20,210.08 L609.70,211.44 L610.20,211.84 L610.70,211.92 L611.20,212.36 L611.70,212.34 L612.20,212.61 L612.70,212.67 L613.20,213.08 L613.70,213.02 L614.20,212.96 L614.70,212.63 L615.20,212.30 L615.70,211.98 L616.20,211.57 L616.40,211.08 L616.70,211.52 L617.20,212.46 L617.70,212.50 L618.20,212.87 L618.70,213.00 L619.20,212.65 L619.70,212.94 L620.20,212.69 L620.70,212.87 L621.20,212.95 L621.70,212.83 L622.20,212.93 L622.70,212.76 L623.20,212.61 L623.70,212.87 L624.20,212.77 L624.70,212.44 L625.20,212.41 L625.70,212.50 L626.20,212.48 L626.70,212.74 L627.20,212.69 L627.70,212.59 L628.20,212.56 L628.70,212.40 L629.20,212.77 L629.70,212.76 L630.20,212.90 L630.70,212.89 L631.20,212.98 L631.70,212.99 L632.20,213.10 L632.70,212.86 L633.20,212.95" fill="none" stroke="#000" stroke-width="1.15" stroke-linejoin="round"/>
<g fill="#000"><polygon points="397.60,173.50 396.81,175.61 394.56,175.71 396.32,177.12 395.72,179.29 397.60,178.05 399.48,179.29 398.88,177.12 400.64,175.71 398.39,175.61"/><polygon points="407.6,157.7 409.9,160.6 407.6,163.5 405.3,160.6"/><polygon points="423.70,191.80 422.91,193.91 420.66,194.01 422.42,195.42 421.82,197.59 423.70,196.35 425.58,197.59 424.98,195.42 426.74,194.01 424.49,193.91"/><polygon points="429.60,185.30 428.81,187.41 426.56,187.51 428.32,188.92 427.72,191.09 429.60,189.85 431.48,191.09 430.88,188.92 432.64,187.51 430.39,187.41"/><circle cx="432.5" cy="165.3" r="2.25"/><polygon points="444.4,178.0 446.7,180.9 444.4,183.8 442.1,180.9"/><circle cx="449.2" cy="46.6" r="2.25"/><polygon points="452.90,197.50 452.11,199.61 449.86,199.71 451.62,201.12 451.02,203.29 452.90,202.05 454.78,203.29 454.18,201.12 455.94,199.71 453.69,199.61"/><polygon points="458.40,197.00 457.61,199.11 455.36,199.21 457.12,200.62 456.52,202.79 458.40,201.55 460.28,202.79 459.68,200.62 461.44,199.21 459.19,199.11"/><polygon points="461.10,200.40 460.31,202.51 458.06,202.61 459.82,204.02 459.22,206.19 461.10,204.95 462.98,206.19 462.38,204.02 464.14,202.61 461.89,202.51"/><polygon points="451.8,201.7 454.1,204.6 451.8,207.5 449.5,204.6"/><polygon points="455.60,200.90 454.81,203.01 452.56,203.11 454.32,204.52 453.72,206.69 455.60,205.45 457.48,206.69 456.88,204.52 458.64,203.11 456.39,203.01"/><polygon points="464.60,178.60 463.57,180.17 462.00,181.20 463.57,182.23 464.60,183.80 465.63,182.23 467.20,181.20 465.63,180.17"/><polygon points="473.20,193.10 472.41,195.21 470.16,195.31 471.92,196.72 471.32,198.89 473.20,197.65 475.08,198.89 474.48,196.72 476.24,195.31 473.99,195.21"/><circle cx="477.8" cy="193.3" r="2.25"/><polygon points="483.0,193.7 485.3,196.6 483.0,199.5 480.7,196.6"/><circle cx="487.0" cy="195.2" r="2.25"/><circle cx="489.5" cy="201.3" r="2.25"/><circle cx="495.6" cy="197.5" r="2.25"/><circle cx="505.8" cy="199.6" r="2.25"/><circle cx="518.1" cy="193.3" r="2.25"/><polygon points="524.60,200.20 523.79,201.59 522.40,202.40 523.79,203.21 524.60,204.60 525.41,203.21 526.80,202.40 525.41,201.59"/><circle cx="531.9" cy="201.2" r="2.25"/><circle cx="546.3" cy="195.9" r="2.25"/><polygon points="550.50,202.10 549.69,203.49 548.30,204.30 549.69,205.11 550.50,206.50 551.31,205.11 552.70,204.30 551.31,203.49"/><polygon points="554.6,201.2 556.6,203.7 554.6,206.2 552.6,203.7"/><polygon points="562.90,203.50 562.09,204.89 560.70,205.70 562.09,206.51 562.90,207.90 563.71,206.51 565.10,205.70 563.71,204.89"/><circle cx="571.1" cy="201.1" r="2.25"/></g>
<rect x="386.4" y="31.1" width="247.6" height="199.2" fill="none" stroke="#000" stroke-width="1.5"/>
<g stroke="#000" stroke-width="1.4"><line x1="400.90" y1="230.3" x2="400.90" y2="234.2"/><line x1="415.48" y1="230.3" x2="415.48" y2="232.1"/><line x1="430.05" y1="230.3" x2="430.05" y2="234.2"/><line x1="444.62" y1="230.3" x2="444.62" y2="232.1"/><line x1="459.20" y1="230.3" x2="459.20" y2="234.2"/><line x1="473.77" y1="230.3" x2="473.77" y2="232.1"/><line x1="488.35" y1="230.3" x2="488.35" y2="234.2"/><line x1="502.93" y1="230.3" x2="502.93" y2="232.1"/><line x1="517.50" y1="230.3" x2="517.50" y2="234.2"/><line x1="532.08" y1="230.3" x2="532.08" y2="232.1"/><line x1="546.65" y1="230.3" x2="546.65" y2="234.2"/><line x1="561.23" y1="230.3" x2="561.23" y2="232.1"/><line x1="575.80" y1="230.3" x2="575.80" y2="234.2"/><line x1="590.38" y1="230.3" x2="590.38" y2="232.1"/><line x1="604.95" y1="230.3" x2="604.95" y2="234.2"/><line x1="619.52" y1="230.3" x2="619.52" y2="232.1"/><line x1="634.10" y1="230.3" x2="634.10" y2="234.2"/></g>
<g font-size="12.5" font-weight="bold" font-family="Liberation Serif, serif" text-anchor="middle"><text x="400.90" y="246.7">10</text><text x="430.05" y="246.7">20</text><text x="459.20" y="246.7">30</text><text x="488.35" y="246.7">40</text><text x="517.50" y="246.7">50</text><text x="546.65" y="246.7">60</text><text x="575.80" y="246.7">70</text><text x="604.95" y="246.7">80</text><text x="634.10" y="246.7">90</text></g>
<text x="510.4" y="268.4" font-size="13.4" font-weight="bold" font-family="Liberation Serif, serif" text-anchor="middle">2 Theta (degree)</text>
<text transform="translate(377.1,130.4) rotate(-90)" font-size="13.2" font-weight="bold" font-family="Liberation Serif, serif" text-anchor="middle">Intensity (a.u.)</text>
<g fill="#000"><circle cx="581.3" cy="39.2" r="2.25"/></g><text x="587.7" y="42.0" font-size="10.5" font-family="Liberation Serif, serif" stroke="#000" stroke-width="0.25">Quartz</text><g fill="#000"><polygon points="581.3,49.1 583.6,52.0 581.3,54.9 579.0,52.0"/></g><text x="587.7" y="54.8" font-size="10.5" font-family="Liberation Serif, serif" stroke="#000" stroke-width="0.25">Kaolinite</text><g fill="#000"><polygon points="581.30,61.90 580.51,64.01 578.26,64.11 580.02,65.52 579.42,67.69 581.30,66.45 583.18,67.69 582.58,65.52 584.34,64.11 582.09,64.01"/></g><text x="587.7" y="67.6" font-size="10.5" font-family="Liberation Serif, serif" stroke="#000" stroke-width="0.25">Muscovite</text><g fill="#000"><polygon points="581.30,74.90 580.27,76.47 578.70,77.50 580.27,78.53 581.30,80.10 582.33,78.53 583.90,77.50 582.33,76.47"/></g><text x="587.7" y="80.3" font-size="10.5" font-family="Liberation Serif, serif" stroke="#000" stroke-width="0.25">Siderite</text>
</svg>
</body></html>
